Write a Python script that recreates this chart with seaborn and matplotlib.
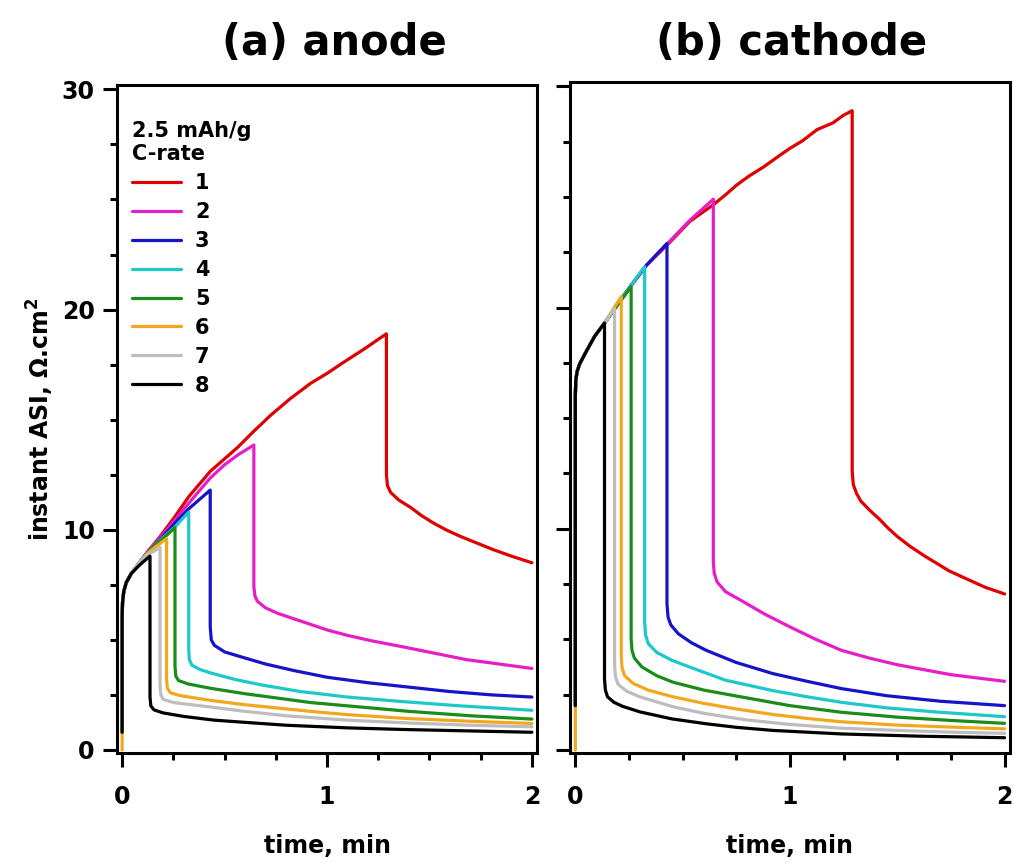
import numpy as np
import pandas as pd
import matplotlib
matplotlib.use("Agg")
import matplotlib.pyplot as plt
from matplotlib.ticker import MultipleLocator
import seaborn as sns

c_rates = ["1", "2", "3", "4", "5", "6", "7", "8"]
colors = ["#e00000", "#e61ec8", "#1414c8", "#1ec8c8", "#1a8c1a", "#f2a81e", "#bdbdbd", "#000000"]

# ---- (a) anode: time (min), instant ASI (ohm.cm2)
anode_t_1 = [0, 0, 0.002, 0.008, 0.02, 0.044, 0.08, 0.12, 0.16, 0.19, 0.258, 0.325, 0.43, 0.565, 0.64, 0.725, 0.82, 0.92, 1.0, 1.08, 1.18, 1.29,
             1.29, 1.295, 1.31, 1.35, 1.41, 1.46, 1.52, 1.58, 1.65, 1.73, 1.81, 1.9, 2.0]
anode_v_1 = [0.8, 6.0, 6.7, 7.2, 7.6, 8.0, 8.45, 8.95, 9.4, 9.75, 10.6, 11.5, 12.65, 13.75, 14.45, 15.2, 15.95, 16.65, 17.1, 17.6, 18.2, 18.9,
             12.5, 12.0, 11.7, 11.35, 11.0, 10.65, 10.3, 10.0, 9.7, 9.4, 9.1, 8.8, 8.5]
anode_t_2 = [0, 0, 0.002, 0.008, 0.02, 0.044, 0.08, 0.12, 0.16, 0.2, 0.258, 0.325, 0.43, 0.5, 0.565, 0.643,
             0.643, 0.648, 0.66, 0.7, 0.76, 0.84, 0.92, 1.0, 1.1, 1.22, 1.36, 1.52, 1.68, 1.84, 2.0]
anode_v_2 = [0.8, 6.0, 6.7, 7.2, 7.6, 8.0, 8.45, 8.95, 9.35, 9.8, 10.45, 11.2, 12.35, 12.95, 13.4, 13.85,
             7.4, 7.0, 6.75, 6.45, 6.2, 5.95, 5.7, 5.45, 5.2, 4.95, 4.7, 4.4, 4.1, 3.9, 3.7]
anode_t_3 = [0, 0, 0.002, 0.008, 0.02, 0.044, 0.08, 0.12, 0.16, 0.2, 0.258, 0.325, 0.43,
             0.43, 0.435, 0.45, 0.5, 0.59, 0.7, 0.84, 1.0, 1.2, 1.4, 1.6, 1.8, 2.0]
anode_v_3 = [0.8, 6.0, 6.7, 7.2, 7.6, 8.0, 8.45, 8.9, 9.3, 9.7, 10.3, 10.95, 11.8,
             5.6, 5.0, 4.75, 4.45, 4.2, 3.9, 3.6, 3.3, 3.05, 2.85, 2.65, 2.5, 2.4]
anode_t_4 = [0, 0, 0.002, 0.008, 0.02, 0.044, 0.08, 0.12, 0.16, 0.2, 0.26, 0.325,
             0.325, 0.328, 0.34, 0.38, 0.43, 0.55, 0.68, 0.87, 1.1, 1.36, 1.65, 2.0]
anode_v_4 = [0.8, 6.0, 6.7, 7.2, 7.6, 8.0, 8.45, 8.9, 9.3, 9.65, 10.15, 10.8,
             4.6, 4.1, 3.85, 3.65, 3.5, 3.2, 2.95, 2.65, 2.4, 2.2, 2.0, 1.8]
anode_t_5 = [0, 0, 0.002, 0.008, 0.02, 0.044, 0.08, 0.12, 0.16, 0.2, 0.258,
             0.258, 0.262, 0.275, 0.32, 0.43, 0.6, 0.76, 0.92, 1.1, 1.4, 1.7, 2.0]
anode_v_5 = [0.8, 6.0, 6.7, 7.2, 7.6, 8.0, 8.45, 8.9, 9.3, 9.6, 10.1,
             3.8, 3.35, 3.15, 3.0, 2.8, 2.55, 2.35, 2.15, 2.0, 1.75, 1.55, 1.4]
anode_t_6 = [0, 0, 0.002, 0.008, 0.02, 0.044, 0.08, 0.12, 0.16, 0.217,
             0.217, 0.221, 0.235, 0.28, 0.43, 0.6, 0.76, 0.92, 1.1, 1.4, 1.7, 2.0]
anode_v_6 = [0.0, 6.0, 6.7, 7.2, 7.6, 8.0, 8.45, 8.9, 9.2, 9.6,
             3.2, 2.8, 2.6, 2.47, 2.25, 2.05, 1.9, 1.75, 1.6, 1.42, 1.3, 1.2]
anode_t_7 = [0, 0, 0.002, 0.008, 0.02, 0.044, 0.08, 0.12, 0.15, 0.185,
             0.185, 0.189, 0.2, 0.25, 0.43, 0.6, 0.8, 1.1, 1.4, 1.7, 2.0]
anode_v_7 = [0.8, 6.0, 6.7, 7.2, 7.6, 8.0, 8.45, 8.85, 9.0, 9.2,
             2.9, 2.5, 2.3, 2.15, 1.95, 1.75, 1.55, 1.35, 1.22, 1.12, 1.05]
anode_t_8 = [0, 0, 0.002, 0.008, 0.02, 0.044, 0.08, 0.11, 0.136,
             0.136, 0.14, 0.155, 0.2, 0.3, 0.45, 0.6, 0.8, 1.1, 1.4, 1.7, 2.0]
anode_v_8 = [0.8, 6.0, 6.7, 7.2, 7.6, 8.0, 8.35, 8.6, 8.8,
             2.4, 2.0, 1.82, 1.68, 1.52, 1.35, 1.25, 1.12, 1.0, 0.92, 0.86, 0.8]

# ---- (b) cathode
cath_t_1 = [0, 0, 0.002, 0.008, 0.02, 0.05, 0.09, 0.136, 0.2, 0.26, 0.33, 0.43, 0.534, 0.643, 0.7, 0.753, 0.81, 0.876, 0.955, 1.0, 1.06,
            1.1, 1.127, 1.2, 1.25, 1.29,
            1.29, 1.295, 1.31, 1.33, 1.37, 1.42, 1.46, 1.5, 1.56, 1.63, 1.69, 1.74, 1.83, 1.91, 2.0]
cath_v_1 = [2.0, 16.0, 16.7, 17.1, 17.45, 18.0, 18.7, 19.3, 20.2, 21.0, 21.9, 22.85, 23.9, 24.65, 25.1, 25.55, 25.95, 26.35, 26.9, 27.2, 27.55,
            27.85, 28.05, 28.35, 28.7, 28.9,
            12.6, 12.0, 11.6, 11.25, 10.85, 10.4, 10.0, 9.65, 9.2, 8.75, 8.4, 8.1, 7.7, 7.35, 7.05]
cath_t_2 = [0, 0, 0.002, 0.008, 0.02, 0.05, 0.09, 0.136, 0.2, 0.26, 0.33, 0.43, 0.534, 0.643,
            0.643, 0.647, 0.66, 0.7, 0.77, 0.88, 1.0, 1.12, 1.24, 1.37, 1.5, 1.75, 2.0]
cath_v_2 = [2.0, 16.0, 16.7, 17.1, 17.45, 18.0, 18.7, 19.3, 20.2, 21.0, 21.9, 22.9, 23.95, 24.9,
            8.5, 8.0, 7.6, 7.15, 6.77, 6.15, 5.56, 5.0, 4.5, 4.15, 3.85, 3.4, 3.1]
cath_t_3 = [0, 0, 0.002, 0.008, 0.02, 0.05, 0.09, 0.136, 0.2, 0.26, 0.33, 0.427,
            0.427, 0.432, 0.445, 0.48, 0.54, 0.61, 0.75, 0.92, 1.08, 1.24, 1.45, 1.7, 2.0]
cath_v_3 = [2.0, 16.0, 16.7, 17.1, 17.45, 18.0, 18.7, 19.3, 20.2, 21.0, 21.9, 22.9,
            6.6, 6.0, 5.65, 5.25, 4.85, 4.5, 3.95, 3.45, 3.1, 2.77, 2.45, 2.2, 2.0]
cath_t_4 = [0, 0, 0.002, 0.008, 0.02, 0.05, 0.09, 0.136, 0.2, 0.26, 0.323,
            0.323, 0.327, 0.34, 0.38, 0.45, 0.534, 0.7, 0.92, 1.08, 1.24, 1.45, 1.7, 2.0]
cath_v_4 = [2.0, 16.0, 16.7, 17.1, 17.45, 18.0, 18.7, 19.3, 20.2, 21.0, 21.85,
            5.8, 5.2, 4.8, 4.4, 4.05, 3.74, 3.15, 2.68, 2.4, 2.15, 1.9, 1.7, 1.5]
cath_t_5 = [0, 0, 0.002, 0.008, 0.02, 0.05, 0.09, 0.136, 0.2, 0.26,
            0.26, 0.264, 0.275, 0.31, 0.38, 0.455, 0.6, 0.77, 1.0, 1.24, 1.5, 1.75, 2.0]
cath_v_5 = [2.0, 16.0, 16.7, 17.1, 17.45, 18.0, 18.7, 19.3, 20.15, 20.95,
            5.0, 4.5, 4.15, 3.75, 3.35, 3.06, 2.7, 2.4, 2.0, 1.7, 1.48, 1.33, 1.2]
cath_t_6 = [0, 0, 0.002, 0.008, 0.02, 0.05, 0.09, 0.136, 0.175, 0.214,
            0.214, 0.218, 0.23, 0.27, 0.34, 0.455, 0.6, 0.75, 0.92, 1.1, 1.24, 1.5, 1.75, 2.0]
cath_v_6 = [0.0, 16.0, 16.7, 17.1, 17.45, 18.0, 18.7, 19.3, 19.9, 20.5,
            4.2, 3.7, 3.35, 3.0, 2.7, 2.4, 2.1, 1.85, 1.6, 1.4, 1.27, 1.12, 1.03, 0.95]
cath_t_7 = [0, 0, 0.002, 0.008, 0.02, 0.05, 0.09, 0.136, 0.16, 0.183,
            0.183, 0.187, 0.2, 0.24, 0.3, 0.455, 0.6, 0.8, 1.0, 1.24, 1.5, 1.75, 2.0]
cath_v_7 = [2.0, 16.0, 16.7, 17.1, 17.45, 18.0, 18.7, 19.3, 19.65, 19.95,
            3.8, 3.3, 2.95, 2.65, 2.4, 1.95, 1.65, 1.35, 1.15, 0.98, 0.88, 0.8, 0.75]
cath_t_8 = [0, 0, 0.002, 0.008, 0.02, 0.05, 0.09, 0.136,
            0.136, 0.14, 0.15, 0.18, 0.22, 0.3, 0.45, 0.61, 0.75, 0.92, 1.24, 1.6, 2.0]
cath_v_8 = [2.0, 16.0, 16.7, 17.1, 17.45, 18.0, 18.7, 19.3,
            3.2, 2.7, 2.4, 2.15, 1.97, 1.72, 1.4, 1.18, 1.02, 0.88, 0.72, 0.62, 0.55]

anode_t = [anode_t_1, anode_t_2, anode_t_3, anode_t_4, anode_t_5, anode_t_6, anode_t_7, anode_t_8]
anode_v = [anode_v_1, anode_v_2, anode_v_3, anode_v_4, anode_v_5, anode_v_6, anode_v_7, anode_v_8]
cath_t = [cath_t_1, cath_t_2, cath_t_3, cath_t_4, cath_t_5, cath_t_6, cath_t_7, cath_t_8]
cath_v = [cath_v_1, cath_v_2, cath_v_3, cath_v_4, cath_v_5, cath_v_6, cath_v_7, cath_v_8]


def make_df(ts, vs):
    frames = []
    for c, t, v in zip(c_rates, ts, vs):
        frames.append(pd.DataFrame({"time": t, "asi": v, "C-rate": c}))
    return pd.concat(frames, ignore_index=True)


sns.set_style("ticks")
plt.rcParams["font.family"] = ["DejaVu Sans"]
plt.rcParams["font.weight"] = "bold"
for k in ["text.color", "axes.labelcolor", "xtick.color", "ytick.color", "axes.edgecolor"]:
    plt.rcParams[k] = "black"

fig = plt.figure(figsize=(10.14, 8.63), dpi=100)
ax1 = fig.add_axes([0.1154, 0.1275, 0.4142, 0.774])
ax2 = fig.add_axes([0.5621, 0.1275, 0.4339, 0.7775])

palette = dict(zip(c_rates, colors))
for ax, ts, vs in [(ax1, anode_t, anode_v), (ax2, cath_t, cath_v)]:
    df = make_df(ts, vs)
    sns.lineplot(data=df, x="time", y="asi", hue="C-rate", hue_order=c_rates, palette=palette,
                 units="C-rate", estimator=None, sort=False, linewidth=2.3, ax=ax, legend=(ax is ax1))
    ax.set_xlim(-0.025, 2.025)
    ax.set_ylim(-0.14, 30.2)
    ax.set_xticks([0, 1, 2])
    ax.set_yticks([0, 10, 20, 30])
    ax.xaxis.set_minor_locator(MultipleLocator(0.25))
    ax.yaxis.set_minor_locator(MultipleLocator(2.5))
    ax.tick_params(which="major", length=10, width=2.2, labelsize=17)
    ax.tick_params(axis="x", which="major", pad=13)
    ax.tick_params(axis="y", which="major", pad=6)
    ax.tick_params(which="minor", length=5, width=2.2)
    ax.tick_params(top=False, right=False, which="both")
    for s in ax.spines.values():
        s.set_linewidth(2.2)
        s.set_visible(True)
    ax.set_xlabel("time, min", fontsize=17, fontweight="bold", labelpad=18)
    ax.set_ylabel("")
    for lab in ax.get_xticklabels() + ax.get_yticklabels():
        lab.set_fontweight("bold")

fig.text(0.330, 0.950, "(a) anode", fontsize=30, fontweight="bold", ha="center", va="center")
fig.text(0.781, 0.950, "(b) cathode", fontsize=30, fontweight="bold", ha="center", va="center")

ax2.tick_params(labelleft=False)
ax1.set_ylabel(r"instant ASI, Ω.cm$^{\mathbf{2}}$", fontsize=17, fontweight="bold", labelpad=4)

handles, labels = ax1.get_legend_handles_labels()
leg = ax1.legend(handles, labels, title="2.5 mAh/g\nC-rate", loc="upper left",
                 bbox_to_anchor=(0.012, 0.962), frameon=False, borderpad=0,
                 prop={"size": 15, "weight": "bold"},
                 title_fontproperties={"size": 15, "weight": "bold"},
                 handlelength=2.35, handletextpad=0.65, labelspacing=0.43, alignment="left")
for line in leg.get_lines():
    line.set_linewidth(2.3)

fig.savefig("out.png", dpi=100)
